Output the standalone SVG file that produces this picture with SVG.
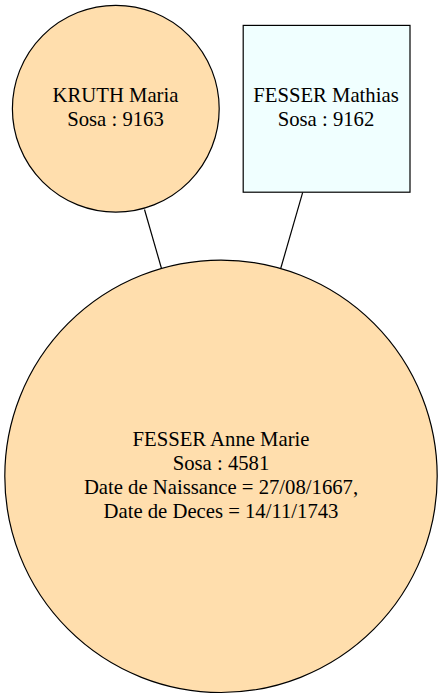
<svg xmlns="http://www.w3.org/2000/svg" width="442" height="698" viewBox="0 0 442 698">
<style>
  .node { stroke: #000; stroke-width: 1.2; }
  .female { fill: #ffdead; }
  .male { fill: #f0ffff; }
  .edge { stroke: #000; stroke-width: 1.2; fill: none; }
  .lbl { font-family: "Liberation Serif", "Times New Roman", Times, "DejaVu Serif", "Noto Serif", serif; font-size: 20.7px; fill: #000; text-anchor: middle; }
</style>
<rect width="442" height="698" fill="#ffffff"/>
<g id="edges">
  <line class="edge" x1="144.5" y1="209.5" x2="161.5" y2="268.5"/>
  <line class="edge" x1="302.7" y1="192.3" x2="280.7" y2="268.5"/>
</g>
<g id="node-kruth-maria">
  <circle class="node female" cx="115.8" cy="108.7" r="103.4"/>
  <text class="lbl" x="115.5" y="101.7">KRUTH Maria</text>
  <text class="lbl" x="115.5" y="125.8">Sosa : 9163</text>
</g>
<g id="node-fesser-mathias">
  <rect class="node male" x="243.2" y="25.4" width="166.8" height="166.8"/>
  <text class="lbl" x="326" y="101.7">FESSER Mathias</text>
  <text class="lbl" x="326" y="125.8">Sosa : 9162</text>
</g>
<g id="node-fesser-anne-marie">
  <circle class="node female" cx="221" cy="476.3" r="216.2"/>
  <text class="lbl" x="221" y="446">FESSER Anne Marie</text>
  <text class="lbl" x="221" y="470">Sosa : 4581</text>
  <text class="lbl" x="221" y="494">Date de Naissance = 27/08/1667,</text>
  <text class="lbl" x="221" y="517.7">Date de Deces = 14/11/1743</text>
</g>
</svg>
